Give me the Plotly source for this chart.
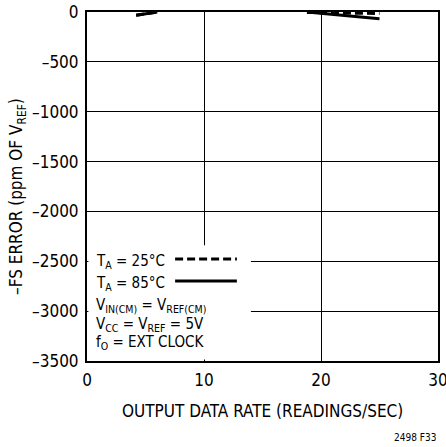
import plotly.graph_objects as go

# data (gaps = None)
rate = [4.2, 6.0, None, 18.8, 25.0]
err_25c = [-33, 0, None, -5, -15]
err_85c = [-33, 0, None, 0, -68]

y_ticks = [0, -500, -1000, -1500, -2000, -2500, -3000, -3500]
y_labels = ["0", "–500", "–1000", "–1500", "–2000", "–2500", "–3000", "–3500"]
x_ticks = [0, 10, 20, 30]

FONT = "DejaVu Sans Condensed, Roboto Condensed, Roboto, sans-serif"

fig = go.Figure()

fig.add_trace(go.Scatter(
    x=rate, y=err_85c, mode='lines', name='85C',
    line=dict(color='black', width=3),
    connectgaps=False, showlegend=False
))
fig.add_trace(go.Scatter(
    x=rate, y=err_25c, mode='lines', name='25C',
    line=dict(color='black', width=3, dash='8px,4px'),
    connectgaps=False, showlegend=False
))

# white box behind the legend text (hides grid lines)
fig.add_shape(type='rect', xref='paper', yref='paper',
              x0=0.004, x1=0.467, y0=0.004, y1=0.332,
              fillcolor='white', line=dict(width=0), layer='above')

# legend line samples
fig.add_shape(type='line', xref='paper', yref='paper',
              x0=0.251, x1=0.427, y0=0.292, y1=0.292,
              line=dict(color='black', width=3, dash='8px,4px'), layer='above')
fig.add_shape(type='line', xref='paper', yref='paper',
              x0=0.251, x1=0.427, y0=0.229, y1=0.229,
              line=dict(color='black', width=3), layer='above')

legend_lines = [
    ("T<sub>A</sub> = 25°C", 0.286),
    ("T<sub>A</sub> = 85°C", 0.223),
    ("V<sub>IN(CM)</sub> = V<sub>REF(CM)</sub>", 0.159),
    ("V<sub>CC</sub> = V<sub>REF</sub> = 5V", 0.106),
    ("f<sub>O</sub> = EXT CLOCK", 0.053),
]
for txt, yy in legend_lines:
    fig.add_annotation(text=txt, xref='paper', yref='paper', x=0.02, y=yy,
                       xanchor='left', yanchor='middle', showarrow=False,
                       font=dict(family=FONT, size=15, color='black'))

# axis titles as annotations for exact placement
fig.add_annotation(text="OUTPUT DATA RATE (READINGS/SEC)", xref='paper', yref='paper',
                   x=0.5, y=0, xanchor='center', yanchor='middle', yshift=-50,
                   showarrow=False, font=dict(family=FONT, size=17, color='black'))
fig.add_annotation(text="–FS ERROR (ppm OF V<sub>REF</sub>)", xref='paper', yref='paper',
                   x=0, y=0.47, xanchor='center', yanchor='middle', xshift=-69,
                   textangle=-90, showarrow=False,
                   font=dict(family=FONT, size=17, color='black'))

fig.add_annotation(text="2498 F33", xref='paper', yref='paper', x=1.0, y=0,
                   xanchor='right', yanchor='middle', yshift=-76, showarrow=False,
                   font=dict(family=FONT, size=10, color='black'))

fig.update_layout(
    width=446, height=447,
    margin=dict(l=87, r=8, t=12, b=86, autoexpand=False),
    paper_bgcolor='white', plot_bgcolor='white',
    font=dict(family=FONT, size=17, color='black'),
    xaxis=dict(
        range=[0, 30], tickvals=x_ticks, ticks='', ticklen=0,
        showgrid=True, gridcolor='black', gridwidth=1,
        showline=True, linecolor='black', linewidth=2, mirror=True,
        zeroline=False, tickfont=dict(size=17), automargin=False,
        ticklabeloverflow='allow', ticklabelstandoff=3
    ),
    yaxis=dict(
        range=[-3500, 0], tickvals=y_ticks, ticktext=y_labels, ticks='',
        showgrid=True, gridcolor='black', gridwidth=1,
        showline=True, linecolor='black', linewidth=2, mirror=True,
        zeroline=False, tickfont=dict(size=17), automargin=False,
        ticklabeloverflow='allow', ticklabelstandoff=3
    ),
)

# drop the default 8px page margin so the figure fills the window
fig.write_html("out.html",
               config={'displayModeBar': False},
               post_script="document.body.style.margin='0px';"
                           "document.body.style.overflow='hidden';")
